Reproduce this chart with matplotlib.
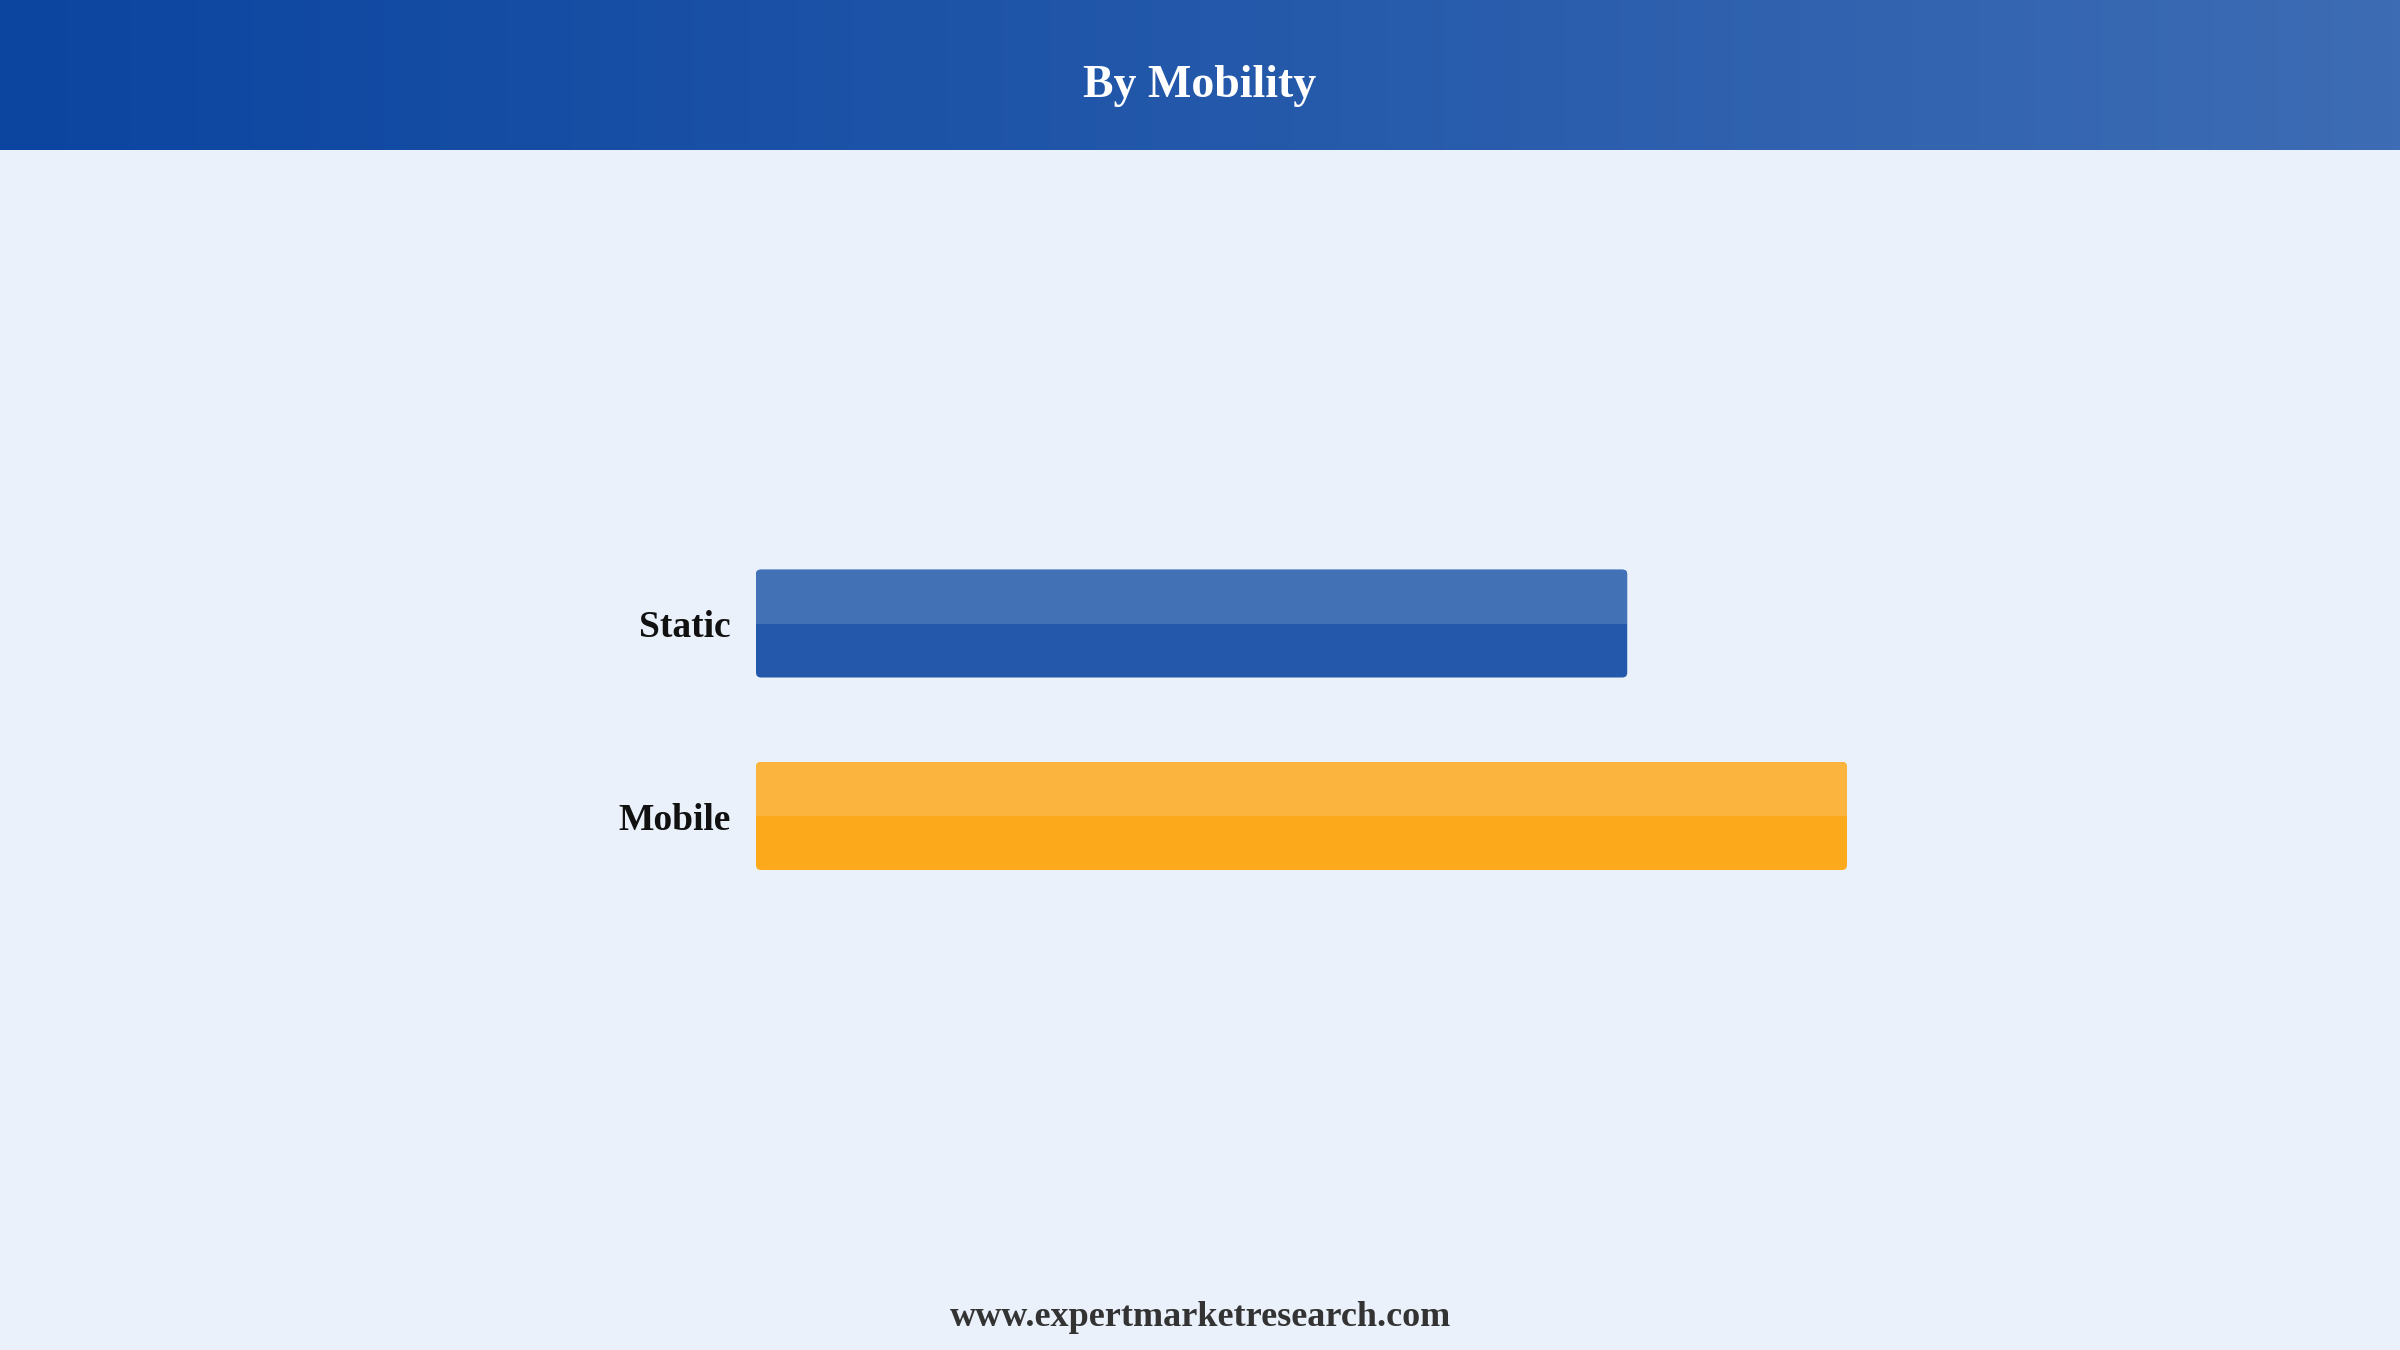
import matplotlib
matplotlib.use("Agg")
import matplotlib.pyplot as plt
import numpy as np
from matplotlib.patches import FancyBboxPatch, Rectangle
from matplotlib.colors import LinearSegmentedColormap

categories = ["Static", "Mobile"]
values = [44.4, 55.6]
light_colors = ["#4272B5", "#FBB43D"]
dark_colors = ["#2358AA", "#FCA91C"]
title = "By Mobility"
footer = "www.expertmarketresearch.com"

BG = "#EAF1FB"
W, H = 2400, 1350
fig = plt.figure(figsize=(24, 13.5), dpi=100, facecolor=BG)

# header gradient
hax = fig.add_axes([0, 1 - 150 / H, 1, 150 / H])
cmap = LinearSegmentedColormap.from_list("hdr", ["#0B45A0", "#2358AA", "#3D6CB4"])
grad = np.linspace(0, 1, 512).reshape(1, -1)
hax.imshow(grad, aspect="auto", cmap=cmap, extent=[0, 1, 0, 1])
hax.set_axis_off()
hax.text(0.5, 1 - 86 / 150, title, ha="center", va="center", color="white",
         fontsize=33, fontweight="bold", family="Liberation Serif",
         transform=hax.transAxes)

# main axes
xmax = 60.0
left_px, right_px = 756, 756 + xmax / values[1] * (1847 - 756)
ylim_top, ylim_bot = -0.8, 1.8
spacing = 816 - 623.5
top_px = 623.5 + ylim_top * spacing
bot_px = 623.5 + ylim_bot * spacing
ax = fig.add_axes([left_px / W, 1 - bot_px / H, (right_px - left_px) / W, (bot_px - top_px) / H])
ax.set_facecolor(BG)
ax.set_xlim(0, xmax)
ax.set_ylim(ylim_bot, ylim_top)
for s in ax.spines.values():
    s.set_visible(False)
ax.set_xticks([])
ypos = np.arange(len(categories))
ax.set_yticks(ypos)
ax.set_yticklabels(categories, fontsize=27, fontweight="bold", family="Liberation Serif", color="#111111")
ax.tick_params(axis="y", length=0, pad=18)

bar_h = 108 / spacing
fig.canvas.draw()
# data per pixel
p0 = ax.transData.inverted().transform((0, 0))
p1 = ax.transData.inverted().transform((1, 1))
dx = abs(p1[0] - p0[0])
dy = abs(p1[1] - p0[1])
r_px = 5
for y, v, lc, dc in zip(ypos, values, light_colors, dark_colors):
    full = FancyBboxPatch((0, y - bar_h / 2), v, bar_h,
                          boxstyle=f"round,pad=0,rounding_size={r_px * dx}",
                          mutation_aspect=dy / dx, facecolor=dc, edgecolor="none")
    ax.add_patch(full)
    top = Rectangle((0, y - bar_h / 2), v, bar_h / 2, facecolor=lc, edgecolor="none")
    ax.add_patch(top)
    top.set_clip_path(full)

fig.text(0.5, 1 - 1318 / H, footer, ha="center", va="center", color="#333333",
         fontsize=26, fontweight="bold", family="Liberation Serif")

fig.savefig("out.png", dpi=100, facecolor=BG)
